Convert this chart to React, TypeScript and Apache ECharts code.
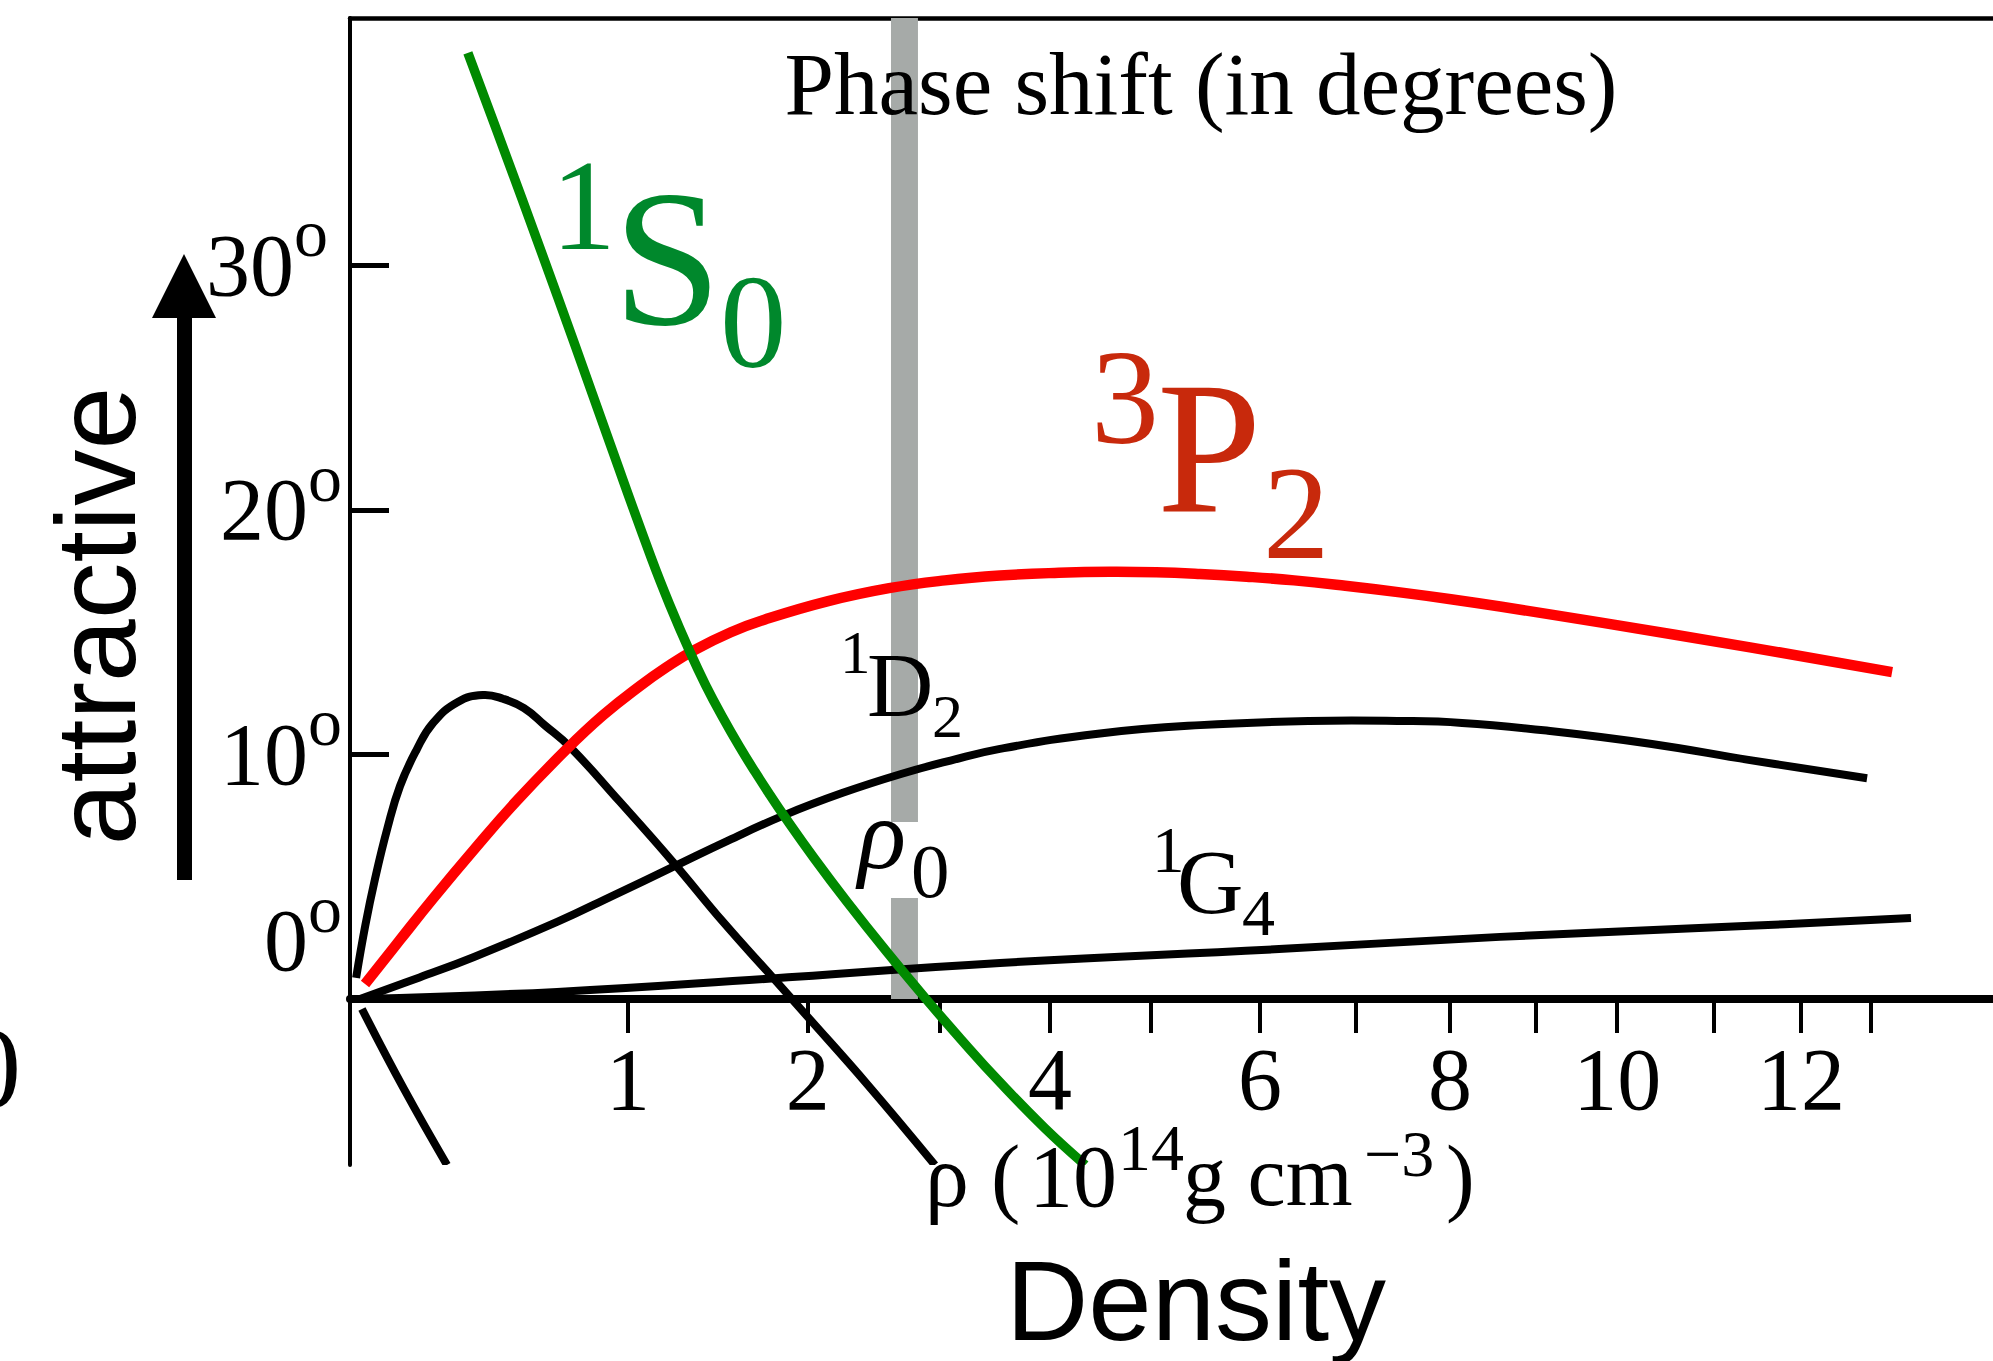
import React, { useEffect, useRef } from 'react';
import * as echarts from 'echarts';

// Horizontal axis: drawn (non-linear) density scale. Axis units are chosen so that rho = 1 sits at 1.
const tickDensities = [1, 2, 3, 4, 5, 6, 7, 8, 9, 10, 11, 12, 13];
const tickPositions = [1.0, 1.647, 2.122, 2.518, 2.881, 3.273, 3.619, 3.957, 4.266, 4.558, 4.906, 5.219, 5.471];
const labelledDensities = [1, 2, 4, 6, 8, 10, 12];
const xMax = 5.91;

// Vertical axis: phase shift in degrees
const yMin = -6.79;
const yMax = 40.12;
const yTickValues = [10, 20, 30];
const yLabelValues = [0, 10, 20, 30];

// rho0 (saturation density) band and the gap left for its label
const rho0Band = [1.946, 2.043];
const rho0Gap = [4.13, 7.24];

// Curves: [axis position, phase shift in degrees]
const s1S0 = [
  [0.424, 38.69], [0.554, 34.72], [0.683, 30.72], [0.809, 26.75], [0.935, 22.72],
  [1.083, 18.06], [1.15, 16.12], [1.223, 14.19], [1.28, 12.82], [1.342, 11.49],
  [1.4, 10.34], [1.457, 9.29], [1.51, 8.36], [1.565, 7.43], [1.67, 5.75],
  [1.788, 3.97], [1.93, 1.94], [2.072, 0.0], [2.2, -1.68], [2.338, -3.41],
  [2.5, -5.29], [2.645, -6.79],
];
const s3P2 = [
  [0.054, 0.61], [0.18, 2.42], [0.299, 4.11], [0.45, 6.16], [0.597, 8.07],
  [0.777, 10.19], [0.91, 11.6], [1.043, 12.8], [1.14, 13.58], [1.237, 14.26],
  [1.37, 15.0], [1.493, 15.52], [1.72, 16.27], [1.939, 16.8], [2.14, 17.12],
  [2.338, 17.32], [2.55, 17.43], [2.734, 17.47], [2.9, 17.45], [3.058, 17.38],
  [3.225, 17.27], [3.396, 17.12], [3.58, 16.9], [3.777, 16.63], [3.96, 16.35],
  [4.137, 16.05], [4.496, 15.4], [5.036, 14.38], [5.547, 13.37],
];
const s1D2 = [
  [0.036, 0.0], [0.25, 0.88], [0.446, 1.72], [0.745, 3.15], [0.95, 4.25],
  [1.162, 5.4], [1.36, 6.48], [1.565, 7.53], [1.77, 8.42], [1.982, 9.2],
  [2.16, 9.75], [2.338, 10.23], [2.698, 10.86], [3.058, 11.2], [3.45, 11.37],
  [3.777, 11.37], [4.0, 11.29], [4.317, 10.96], [4.683, 10.43], [5.036, 9.77],
  [5.457, 9.03],
];
const s1G4 = [
  [0.036, 0.0], [0.745, 0.29], [1.493, 0.82], [2.338, 1.47], [3.342, 2.04],
  [4.137, 2.54], [5.036, 2.99], [5.615, 3.31],
];
const sHump = [
  [0.022, 0.86], [0.055, 3.0], [0.09, 4.91], [0.135, 7.0], [0.18, 8.71],
  [0.24, 10.2], [0.299, 11.29], [0.388, 12.15], [0.478, 12.43], [0.55, 12.28],
  [0.626, 11.9], [0.7, 11.2], [0.791, 10.31], [0.968, 8.1], [1.162, 5.6],
  [1.342, 3.15], [1.522, 0.86], [1.64, -0.65], [1.863, -3.52], [2.104, -6.79],
];
const sLower = [
  [0.043, -0.41], [0.194, -3.68], [0.349, -6.79],
];

const SERIF = '"Liberation Serif", "Times New Roman", serif';
const SANS = '"Liberation Sans", Arial, sans-serif';
const GREEN_LINE = '#008a00';
const GREEN_TEXT = '#00882c';
const RED_LINE = '#ff0000';
const RED_TEXT = '#c8290c';

function txt(text: string, x: number, y: number, size: number, opts: any = {}) {
  const align = opts.align || 'left';
  return {
    type: 'text',
    x,
    y,
    rotation: opts.rotation || 0,
    z: 100,
    silent: true,
    style: {
      text,
      fontSize: size,
      fontFamily: opts.family || SERIF,
      fontStyle: opts.italic ? 'italic' : 'normal',
      fill: opts.color || '#000',
      align,
      textAlign: align,
      verticalAlign: 'middle',
      textVerticalAlign: 'middle',
    },
  };
}

function nearestLabel(v: number) {
  let best = 0;
  let bd = Infinity;
  tickPositions.forEach((p, i) => {
    const d = Math.abs(p - v);
    if (d < bd) {
      bd = d;
      best = i;
    }
  });
  return String(tickDensities[best]);
}

export default function App() {
  const ref = useRef<HTMLDivElement>(null);

  useEffect(() => {
    if (!ref.current) return;
    const chart = echarts.init(ref.current, undefined, { renderer: 'svg' });
    const labelPositions = labelledDensities.map((d) => tickPositions[tickDensities.indexOf(d)]);

    const gridTop = 18;
    const gridBottomPx = 1165;
    const zeroPx = gridTop + (yMax / (yMax - yMin)) * (gridBottomPx - gridTop);
    const xAxisOffset = -(gridBottomPx - zeroPx);

    // Smooth curve through the data points, placed with the chart's own scales (api.coord).
    const curveSeries = (name: string, pts: number[][], color: string, width: number) => ({
      name,
      type: 'custom',
      coordinateSystem: 'cartesian2d',
      xAxisIndex: 0,
      yAxisIndex: 0,
      data: pts,
      encode: { x: 0, y: 1 },
      clip: true,
      silent: true,
      z: 3,
      renderItem: (params: any, api: any) => {
        if (params.dataIndex !== 0) return null;
        return {
          type: 'polyline',
          shape: { points: pts.map((p) => api.coord(p)), smooth: 0.45 },
          style: { stroke: color, lineWidth: width, fill: 'none', lineCap: 'butt', lineJoin: 'round' },
        };
      },
    });

    const rich: any = {
      n: { fontSize: 88, fontFamily: SERIF, color: '#000', verticalAlign: 'middle' },
      o: { fontSize: 68, fontFamily: SERIF, color: '#000', verticalAlign: 'middle', padding: [0, 0, 64, 0] },
      o3: { fontSize: 68, fontFamily: SERIF, color: '#000', verticalAlign: 'middle', padding: [0, 14, 64, 0] },
      z: { fontSize: 88, fontFamily: SERIF, color: '#000', verticalAlign: 'middle', padding: [0, 0, 116, 0] },
      zo: { fontSize: 68, fontFamily: SERIF, color: '#000', verticalAlign: 'middle', padding: [0, 0, 180, 0] },
    };

    const option: any = {
      animation: false,
      backgroundColor: '#ffffff',
      grid: { left: 350, right: 0, top: gridTop, bottom: 1361 - gridBottomPx, containLabel: false },
      xAxis: [
        {
          type: 'value',
          min: 0,
          max: xMax,
          offset: xAxisOffset,
          axisLine: { show: true, onZero: false, lineStyle: { color: '#000', width: 8 } },
          axisTick: {
            show: true,
            inside: false,
            length: 34,
            customValues: tickPositions,
            lineStyle: { color: '#000', width: 4 },
          },
          axisLabel: {
            show: true,
            customValues: labelPositions,
            formatter: (v: number) => nearestLabel(v),
            fontSize: 88,
            fontFamily: SERIF,
            color: '#000',
            margin: 37,
          },
          splitLine: { show: false },
        },
        {
          type: 'value',
          position: 'top',
          min: 0,
          max: xMax,
          axisLine: { show: true, onZero: false, lineStyle: { color: '#000', width: 4.5 } },
          axisTick: { show: false },
          axisLabel: { show: false },
          splitLine: { show: false },
        },
      ],
      yAxis: {
        type: 'value',
        min: yMin,
        max: yMax,
        axisLine: { show: true, onZero: false, lineStyle: { color: '#000', width: 4 } },
        axisTick: {
          show: true,
          inside: true,
          length: 39,
          customValues: yTickValues,
          lineStyle: { color: '#000', width: 5 },
        },
        axisLabel: {
          show: true,
          customValues: yLabelValues,
          margin: 8,
          formatter: (v: number) =>
            v === 0 ? '{z|0}{zo|o}' : v === 30 ? `{n|${v}}{o3|o}` : `{n|${v}}{o|o}`,
          rich,
        },
        splitLine: { show: false },
      },
      series: [
        {
          name: 'rho0',
          type: 'line',
          data: [],
          z: 1,
          silent: true,
          markArea: {
            silent: true,
            itemStyle: { color: '#a6aaa8', opacity: 1 },
            data: [
              [{ coord: [rho0Band[0], yMax] }, { coord: [rho0Band[1], rho0Gap[1]] }],
              [{ coord: [rho0Band[0], rho0Gap[0]] }, { coord: [rho0Band[1], 0] }],
            ],
          },
        },
        curveSeries('1G4', s1G4, '#000', 8),
        curveSeries('1D2', s1D2, '#000', 8),
        curveSeries('hump', sHump, '#000', 8),
        curveSeries('lower', sLower, '#000', 8),
        curveSeries('3P2', s3P2, RED_LINE, 10.5),
        curveSeries('1S0', s1S0, GREEN_LINE, 9.5),
      ],
      graphic: {
        elements: [
          // arrow "attractive"
          { type: 'rect', z: 100, shape: { x: 177, y: 310, width: 15, height: 570 }, style: { fill: '#000' } },
          { type: 'polygon', z: 100, shape: { points: [[152, 318], [216, 318], [184, 254]] }, style: { fill: '#000' } },
          txt('attractive', 96, 616, 113, { family: SANS, align: 'center', rotation: Math.PI / 2 }),
          // title
          txt('Phase shift (in degrees)', 1201, 84, 89, { align: 'center' }),
          // 1S0
          txt('1', 551, 205, 130, { color: GREEN_TEXT }),
          txt('S', 613, 258, 195, { color: GREEN_TEXT }),
          txt('0', 720, 322, 133, { color: GREEN_TEXT }),
          // 3P2
          txt('3', 1091, 397, 136, { color: RED_TEXT }),
          txt('P', 1157, 448, 188, { color: RED_TEXT }),
          txt('2', 1263, 513, 133, { color: RED_TEXT }),
          // 1D2
          txt('1', 840, 652, 61),
          txt('D', 867, 685, 92),
          txt('2', 932, 716, 62),
          // rho0
          txt('ρ', 858, 834, 100, { italic: true }),
          txt('0', 911, 871, 77),
          // 1G4
          txt('1', 1152, 850, 65),
          txt('G', 1177, 882, 92),
          txt('4', 1242, 912, 66),
          // axis unit label
          txt('ρ (', 925, 1176, 88),
          txt('10', 1029, 1176, 88),
          txt('14', 1118, 1147, 66),
          txt('g cm', 1183, 1176, 86),
          txt('−3', 1364, 1153, 66),
          txt(')', 1446, 1176, 86),
          // Density
          txt('Density', 1196, 1300, 114, { family: SANS, align: 'center' }),
          // cut-off label at the left edge
          txt('0', 21, 1068, 114, { align: 'right' }),
        ],
      },
    };

    chart.setOption(option);
    return () => chart.dispose();
  }, []);

  return (
    <div
      ref={ref}
      style={{ position: 'fixed', left: 0, top: 0, width: 1993, height: 1361, background: '#fff' }}
    />
  );
}
